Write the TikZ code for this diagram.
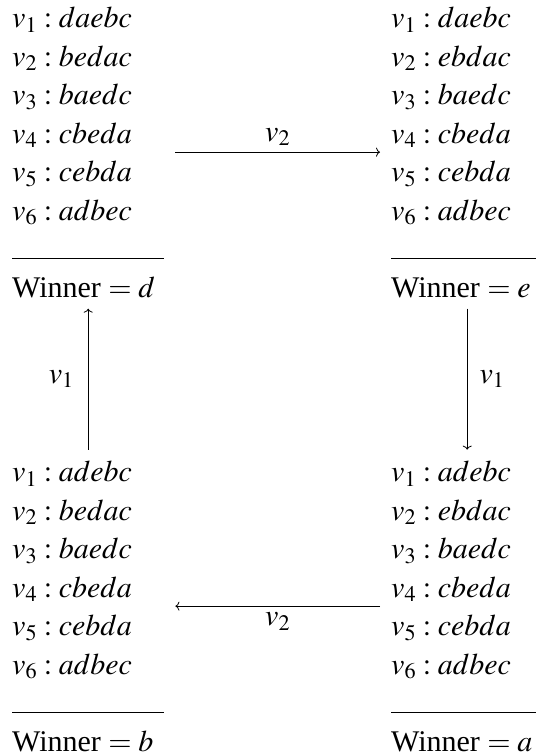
\documentclass[tikz,border=0pt]{standalone}
\usepackage{mathptmx}
\usepackage{fontspec}
\setmainfont{Liberation Serif}
\usetikzlibrary{arrows.meta}
\begin{document}
\begin{tikzpicture}[x=1pt, y=-1pt,
    profile/.style={inner sep=0pt, anchor=base west, align=left, font=\fontsize{30}{38.5}\selectfont},
    lab/.style={inner sep=0pt, font=\fontsize{30}{36}\selectfont},
    arr/.style={-{To[length=4pt, width=9pt]}, line width=0.8pt, shorten <=11pt, shorten >=11pt}]
    % Parameters (base of the Winner line)
    \def\leftx{12}
    \def\rightx{391}
    \def\toprow{297}
    \def\lowrow{751}
    \def\rulelen{152pt}
    \def\rulewd{0.9pt}

    \useasboundingbox (0,0) rectangle (536,756);

    % Profiles
    \node[profile] (prof1) at (\leftx, \toprow) {$v_1 : daebc$\\ $v_2 : bedac$\\ $v_3 : baedc$\\ $v_4 : cbeda$\\ $v_5 : cebda$\\ $v_6 : adbec$\\ \rule{\rulelen}{\rulewd}\\ Winner $= d$};
    \node[profile] (prof2) at (\rightx, \toprow) {$v_1 : daebc$\\ $v_2 : ebdac$\\ $v_3 : baedc$\\ $v_4 : cbeda$\\ $v_5 : cebda$\\ $v_6 : adbec$\\ \rule{\rulelen}{\rulewd}\\ Winner $= e$};
    \node[profile] (prof3) at (\rightx, \lowrow) {$v_1 : adebc$\\ $v_2 : ebdac$\\ $v_3 : baedc$\\ $v_4 : cbeda$\\ $v_5 : cebda$\\ $v_6 : adbec$\\ \rule{\rulelen}{\rulewd}\\ Winner $= a$};
    \node[profile] (prof4) at (\leftx, \lowrow) {$v_1 : adebc$\\ $v_2 : bedac$\\ $v_3 : baedc$\\ $v_4 : cbeda$\\ $v_5 : cebda$\\ $v_6 : adbec$\\ \rule{\rulelen}{\rulewd}\\ Winner $= b$};

    % Manipulations
    \draw[arr] (prof1) -- node[lab, above=6pt] {$v_2$} (prof2);
    \draw[arr] (prof2) -- node[lab, right=12pt] {$v_1$} (prof3);
    \draw[arr] (prof3) -- node[lab, below=6pt] {$v_2$} (prof4);
    \draw[arr] (prof4) -- node[lab, left=14pt] {$v_1$} (prof1);
\end{tikzpicture}
\end{document}
